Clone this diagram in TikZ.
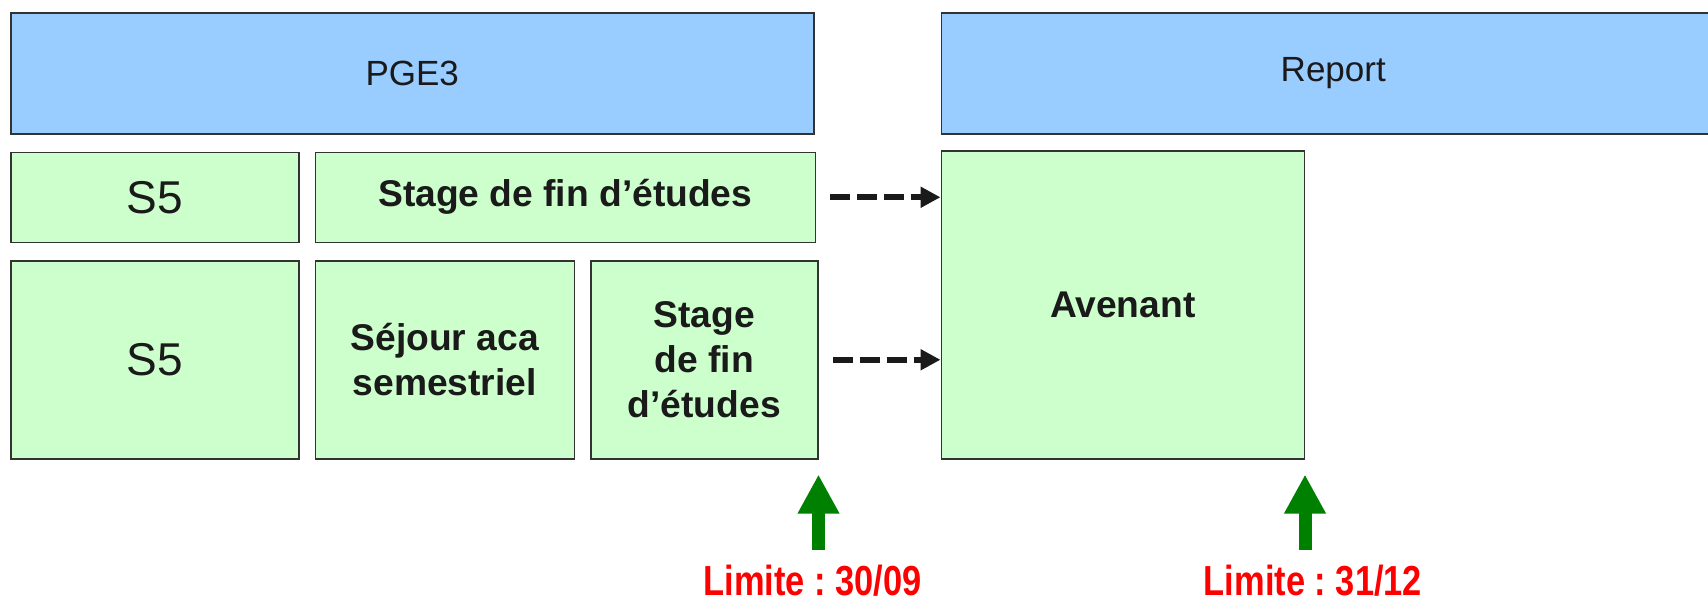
\documentclass[tikz,border=0pt]{standalone}
\usepackage{fontspec}
\usepackage{graphicx}
\setmainfont{Liberation Sans}
\usetikzlibrary{arrows.meta, positioning}

\definecolor{azul}{HTML}{99CCFF}
\definecolor{verde}{HTML}{CCFFCC}
\definecolor{borde}{HTML}{333333}
\definecolor{texto}{HTML}{1A1A1A}
\definecolor{verdeflecha}{HTML}{008000}

% Texto estrecho (tipo Arial Narrow)
\newcommand{\estrecho}[1]{\scalebox{0.82}[1]{#1}}

\begin{document}
\frenchspacing
\begin{tikzpicture}[
        % Estilos para cajas
        bluebox/.style={
                rectangle,
                draw=borde,
                line width=0.75pt,
                fill=azul,
                minimum height=60.5pt,
                text=texto,
                font=\fontsize{17.5}{21}\selectfont
            },
        greenbox/.style={
                rectangle,
                draw=borde,
                line width=0.75pt,
                fill=verde,
                align=center,
                inner sep=2pt,
                text=texto,
                font=\fontsize{18.6}{22.5}\selectfont\bfseries
            },
        s5box/.style={
                greenbox,
                minimum width=144pt,
                font=\fontsize{23}{26}\selectfont
            },
        % Flechas
        dasharrow/.style={
                -{Triangle[length=10pt,width=10pt]},
                line width=3pt,
                dash pattern=on 10pt off 3.5pt,
                color=texto
            },
        greenarrow/.style={
                -{Triangle[length=19.5pt,width=19.5pt]},
                line width=6.5pt,
                color=verdeflecha
            },
        limite/.style={
                text=red,
                inner sep=0pt,
                text depth=0pt,
                font=\fontsize{21}{24}\selectfont\bfseries
            }
    ]

    \useasboundingbox (0,0) rectangle (854pt,-300.5pt);

    % Cabeceras
    \node[bluebox, minimum width=401.5pt, anchor=north west] (pge3) at (5pt,-6pt) {PGE3};
    \node[bluebox, minimum width=392pt, right=63pt of pge3] (report) {Report};

    % Primera fila
    \node[s5box, minimum height=45pt, below=8.5pt of pge3.south west, anchor=north west] (s5a) {S5};
    \node[greenbox, minimum width=250pt, minimum height=45pt, right=7.5pt of s5a] (stagea) {Stage de fin d’études};

    % Segunda fila
    \node[s5box, minimum height=99pt, below=8.5pt of s5a.south west, anchor=north west] (s5b) {S5};
    \node[greenbox, minimum width=129.5pt, minimum height=99pt, right=7.5pt of s5b] (sejour) {Séjour aca\\semestriel};
    \node[greenbox, minimum width=113.5pt, minimum height=99pt, right=7.5pt of sejour] (stageb) {Stage\\de fin\\d’études};

    % Avenant
    \node[greenbox, minimum width=181.5pt, minimum height=154pt, anchor=south west] (avenant) at (report.west |- s5b.south) {Avenant};

    % Flechas discontinuas
    \draw[dasharrow] ([xshift=7pt]stagea.east) -- (avenant.west |- stagea.east);
    \draw[dasharrow] ([xshift=7pt]stageb.east) -- (avenant.west |- stageb.east);

    % Fechas limite
    \coordinate (tip1) at ([yshift=-7.5pt]stageb.south east);
    \coordinate (base1) at ([yshift=-45pt]stageb.south east);
    \coordinate (tip2) at ([yshift=-7.5pt]avenant.south east);
    \coordinate (base2) at ([yshift=-45pt]avenant.south east);

    \draw[greenarrow] (base1) -- (tip1);
    \draw[greenarrow] (base2) -- (tip2);

    \node[limite, anchor=base] (lim1) at ([xshift=-3pt, yshift=-23pt]base1) {\estrecho{Limite : 30/09}};
    \node[limite, anchor=base] (lim2) at ([xshift=4pt, yshift=-23pt]base2) {\estrecho{Limite : 31/12}};

\end{tikzpicture}
\end{document}
